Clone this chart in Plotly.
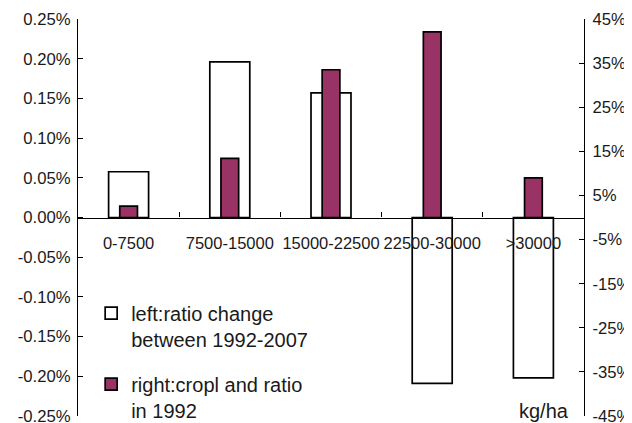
import plotly.graph_objects as go

categories = ["0-7500", "7500-15000", "15000-22500", "22500-30000", ">30000"]
left_ratio_change = [0.000576, 0.00196, 0.00157, -0.00209, -0.00202]
right_cropland_ratio = [0.026, 0.134, 0.335, 0.421, 0.090]

left_tickvals = [0.0025, 0.002, 0.0015, 0.001, 0.0005, 0.0, -0.0005, -0.001, -0.0015, -0.002, -0.0025]
left_ticktext = ["0.25%", "0.20%", "0.15%", "0.10%", "0.05%", "0.00%", "-0.05%", "-0.10%", "-0.15%", "-0.20%", "-0.25%"]
right_tickvals = [0.45, 0.35, 0.25, 0.15, 0.05, -0.05, -0.15, -0.25, -0.35, -0.45]
right_ticktext = ["45%", "35%", "25%", "15%", "5%", "-5%", "-15%", "-25%", "-35%", "-45%"]

legend_left = "left:ratio change<br>between 1992-2007"
legend_right = "right:cropl and ratio<br>in 1992"

FONT = "Liberation Sans, Arial, Helvetica, sans-serif"
TICK_SIZE = 16.7

fig = go.Figure()
fig.add_trace(go.Bar(
    x=categories, y=left_ratio_change, name=legend_left,
    width=0.395, marker=dict(color="white", line=dict(color="black", width=1.7)),
    yaxis="y", legendgroup="a",
))
fig.add_trace(go.Bar(
    x=categories, y=right_cropland_ratio, name=legend_right,
    width=0.175, marker=dict(color="#993366", line=dict(color="black", width=1.7)),
    yaxis="y2", legendgroup="b",
))

axis_common = dict(showgrid=False, zeroline=False, showline=True, linecolor="black",
                   linewidth=1.2, ticks="inside", ticklen=5, tickcolor="black", tickwidth=1.2,
                   automargin=False, ticklabeloverflow="allow",
                   tickfont=dict(family=FONT, size=TICK_SIZE, color="#1a1a1a"))

# the page body has an 8px margin: the figure starts at (8, 8) in the window
fig.update_layout(
    width=632, height=423,
    margin=dict(l=70, r=56, t=11, b=14.5, autoexpand=False),
    paper_bgcolor="white", plot_bgcolor="white",
    barmode="overlay",
    font=dict(family=FONT, color="#1a1a1a"),
    xaxis=dict(anchor="free", position=0.5, showgrid=False, zeroline=False, showline=True,
               linecolor="black", linewidth=1.2, ticks="inside", ticklen=5, tickcolor="black",
               tickwidth=1.2, tickson="boundaries", ticklabelstandoff=11, tickangle=0,
               automargin=False,
               tickfont=dict(family=FONT, size=16.5, color="#1a1a1a")),
    yaxis=dict(range=[-0.0025, 0.0025], tickvals=left_tickvals, ticktext=left_ticktext,
               ticklabelstandoff=3, **axis_common),
    yaxis2=dict(range=[-0.45, 0.45], tickvals=right_tickvals, ticktext=right_ticktext,
                overlaying="y", side="right", ticklabelstandoff=4, **axis_common),
    legend=dict(x=0.026, y=0.308, xanchor="left", yanchor="top", bgcolor="rgba(0,0,0,0)",
                font=dict(family=FONT, size=20, color="#1a1a1a"), valign="top",
                traceorder="grouped", tracegroupgap=16, itemwidth=30),
    showlegend=True,
    annotations=[dict(text="kg/ha", xref="paper", yref="paper", x=0.975, y=0.012,
                      xanchor="right", yanchor="middle", showarrow=False,
                      font=dict(family=FONT, size=20, color="#1a1a1a"))],
)

fig.write_html("out.html")
